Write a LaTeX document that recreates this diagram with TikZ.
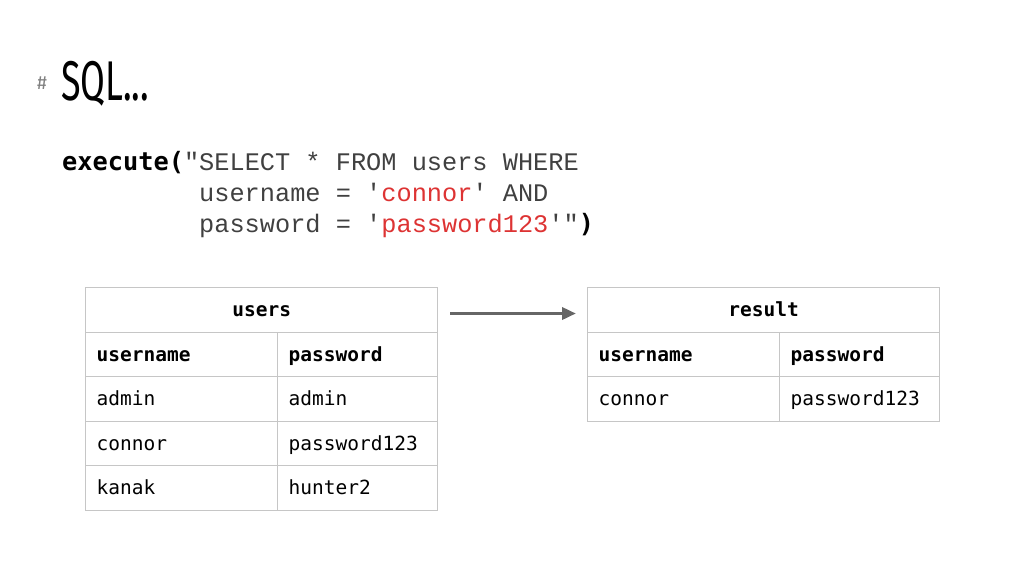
\documentclass[tikz,border=0pt]{standalone}
\usepackage{fontspec}
\usetikzlibrary{arrows.meta}
\setmainfont{Fira Sans}
\newfontfamily\titlefont[FakeStretch=0.64]{Fira Sans}
\newfontfamily\codefont{Liberation Mono}
\newfontfamily\tablefont{DejaVu Sans Mono}
\definecolor{gridgray}{HTML}{C6C6C6}
\definecolor{arrowgray}{HTML}{666666}
\definecolor{codegray}{HTML}{404040}
\definecolor{codered}{HTML}{DD3333}
\newcommand{\q}{\textquotesingle}
\tikzset{
  cell/.style={draw=gridgray, line width=1.3pt, anchor=north west, minimum height=44.5pt,
    inner xsep=11pt, inner ysep=0pt, text height=17pt, text depth=3pt, align=left,
    font=\tablefont\fontsize{19.5}{22}\selectfont},
  leftcol/.style={cell, text width=170pt},
  rightcol/.style={cell, text width=138pt},
  boldtext/.style={font=\tablefont\bfseries\fontsize{19.5}{22}\selectfont},
  headcell/.style={cell, boldtext, text width=330pt, align=center},
  codeline/.style={anchor=base west, inner sep=0pt, text=codegray, font=\codefont\fontsize{25.3}{30}\selectfont},
}
\begin{document}
\begin{tikzpicture}[x=1pt,y=-1pt]
\useasboundingbox (0,0) rectangle (1024,576);

\node[anchor=base west, inner sep=0pt, text=gray, font=\fontsize{19}{22}\selectfont] (hash) at (37,89) {\#};
\node[anchor=base west, inner sep=0pt, font=\titlefont\fontsize{56}{60}\selectfont] (title) at (61,100) {SQL...};

\node[codeline] (code1) at (62,170) {{\tablefont\bfseries\color{black}execute(}"SELECT * FROM users WHERE};
\node[codeline] (code2) at (199,201) {username = \q{\color{codered}connor}\q{} AND};
\node[codeline] (code3) at (199,232) {password = \q{\color{codered}password123}\q"{\tablefont\bfseries\color{black})}};

\node[headcell] (usershead) at (85,287) {users};
\node[leftcol,boldtext] (u11) at (85,331.5) {username};
\node[rightcol,boldtext] (u12) at (277,331.5) {password};
\node[leftcol] (u21) at (85,376) {admin};
\node[rightcol] (u22) at (277,376) {admin};
\node[leftcol] (u31) at (85,420.5) {connor};
\node[rightcol] (u32) at (277,420.5) {password123};
\node[leftcol] (u41) at (85,465) {kanak};
\node[rightcol] (u42) at (277,465) {hunter2};

\node[headcell] (resulthead) at (587,287) {result};
\node[leftcol,boldtext] (r11) at (587,331.5) {username};
\node[rightcol,boldtext] (r12) at (779,331.5) {password};
\node[leftcol] (r21) at (587,376) {connor};
\node[rightcol] (r22) at (779,376) {password123};

\coordinate (arrowstart) at (450,313.5);
\coordinate (arrowend) at (576,313.5);
\path[draw=arrowgray,line width=3.5pt,-{Triangle[length=14pt,width=12pt]}] (arrowstart) -- (arrowend);
\end{tikzpicture}
\end{document}
